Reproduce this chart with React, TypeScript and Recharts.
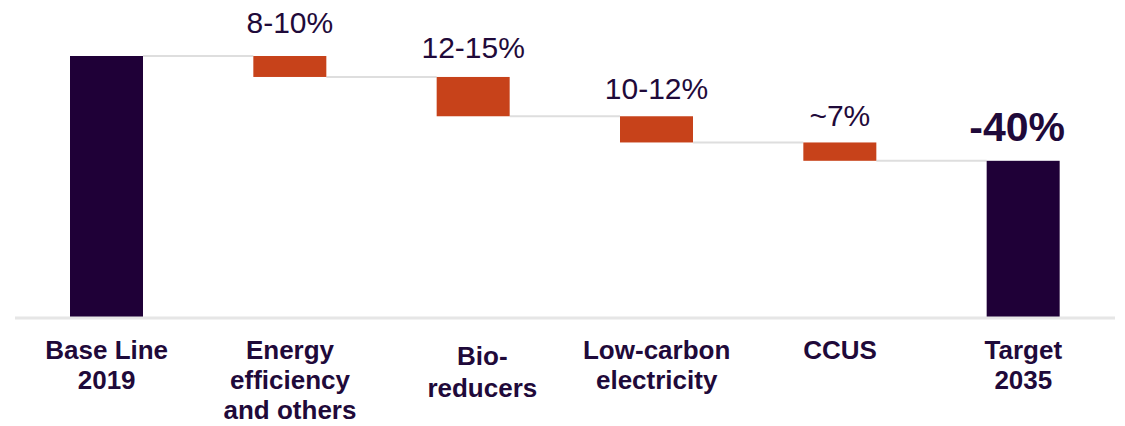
import { BarChart, Bar, XAxis, YAxis, LabelList } from 'recharts';

// reduction levers, left to right
const categories = [
  'Base Line\n2019',
  'Energy\nefficiency\nand others',
  'Bio-\nreducers',
  'Low-carbon\nelectricity',
  'CCUS',
  'Target\n2035',
];
const baseline = 100;
const leverCuts = [8, 15, 10, 7];
const rangeLabels = ['', '8-10%', '12-15%', '10-12%', '~7%', '-40%'];

const WIDTH = 1125;
const HEIGHT = 426;
const MARGIN = { top: 56, right: 10, left: 15, bottom: 0 };
const BAR_W = 73;
const BAND = (WIDTH - MARGIN.left - MARGIN.right) / categories.length;

const DARK = '#1f0037';
const ORANGE = '#c7421a';
const TEXT = '#1f0a3a';
const GRID = '#dedede';
const FONT = '"Liberation Sans", Arial, sans-serif';

// waterfall table: invisible offset + visible segment
const rows = (() => {
  const out: { name: string; offset: number; value: number; total: boolean }[] = [];
  let level = baseline;
  out.push({ name: categories[0], offset: 0, value: baseline, total: true });
  leverCuts.forEach((cut, i) => {
    level -= cut;
    out.push({ name: categories[i + 1], offset: level, value: cut, total: false });
  });
  out.push({ name: categories[categories.length - 1], offset: 0, value: level, total: true });
  return out;
})();

// bar + connector to the next column
function StepBar(props: any) {
  const { x, y, width, height, index, payload } = props;
  const last = index === rows.length - 1;
  const lineY = index === 0 ? y : y + height;
  return (
    <g>
      {!last && (
        <line
          x1={x + width}
          x2={x + width + (BAND - BAR_W)}
          y1={lineY}
          y2={lineY}
          stroke={GRID}
          strokeWidth={2}
        />
      )}
      <rect x={x} y={y} width={width} height={height} fill={payload.total ? DARK : ORANGE} />
    </g>
  );
}

const labelLift = [0, 23, 19, 17, 16, 20];

function RangeLabel(props: any) {
  const { x, y, width, index } = props;
  const text = rangeLabels[index];
  if (!text) return null;
  const big = index === rows.length - 1;
  return (
    <text
      x={x + width / 2 + (big ? -6 : 0)}
      y={y - labelLift[index]}
      textAnchor="middle"
      fill={TEXT}
      fontFamily={FONT}
      fontSize={big ? 41 : 30}
      fontWeight={big ? 'bold' : 'normal'}
    >
      {text}
    </text>
  );
}

function CategoryTick(props: any) {
  const { x, y, payload } = props;
  const lines = String(payload.value).split('\n');
  const shift = lines[0] === 'Bio-' ? 6 : 0;
  return (
    <text
      x={x}
      y={y}
      textAnchor="middle"
      fill={TEXT}
      fontFamily={FONT}
      fontSize={26}
      fontWeight="bold"
    >
      {lines.map((ln, i) => (
        <tspan key={i} x={x + (shift ? 9 : 0)} dy={i === 0 ? 41 + shift : shift ? 32 : 30}>
          {ln}
        </tspan>
      ))}
    </text>
  );
}

export default function App() {
  return (
    <div style={{ width: WIDTH, height: HEIGHT, background: '#fff' }}>
      <style>{'body{margin:0}'}</style>
      <BarChart width={WIDTH} height={HEIGHT} data={rows} margin={MARGIN} barSize={BAR_W}>
        <XAxis
          dataKey="name"
          interval={0}
          height={HEIGHT - 318}
          tickLine={false}
          tickSize={0}
          tickMargin={0}
          axisLine={{ stroke: '#e6e6e6', strokeWidth: 3 }}
          tick={<CategoryTick />}
        />
        <YAxis hide domain={[0, baseline]} />
        <Bar dataKey="offset" stackId="w" fill="transparent" isAnimationActive={false} />
        <Bar dataKey="value" stackId="w" shape={<StepBar />} isAnimationActive={false}>
          <LabelList dataKey="value" content={<RangeLabel />} />
        </Bar>
      </BarChart>
    </div>
  );
}
